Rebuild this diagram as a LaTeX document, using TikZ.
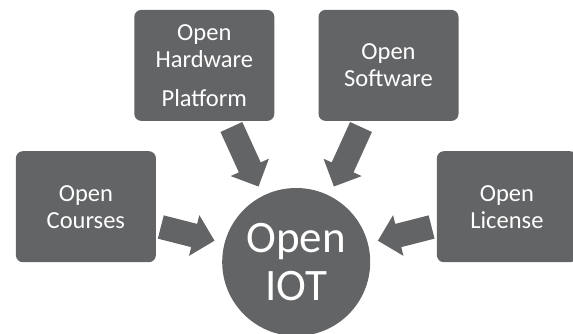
\documentclass[tikz,border=0pt]{standalone}
\usepackage{fontspec}
\setmainfont{Carlito}
\usetikzlibrary{calc}

\definecolor{iotgray}{RGB}{99,100,102}

\tikzset{
	openbox/.style={fill=iotgray, rounded corners=7pt, minimum width=140pt, minimum height=111pt,
		inner sep=0pt, text=white, align=center, font=\fontsize{24.5}{27}\selectfont},
	hub/.style={circle, fill=iotgray, minimum size=148pt, inner sep=0pt,
		text=white, align=center, font=\fontsize{45}{48}\selectfont}
}

% fat arrow from #1 (tail) to #2 (tip)
\newcommand{\blockarrow}[2]{%
	\coordinate (#2-base) at ($(#2)!21pt!(#1)$);
	\fill[iotgray] ($(#1)!12pt!90:(#2)$) -- ($(#2-base)!12pt!90:(#2)$) -- ($(#2-base)!21pt!90:(#2)$)
		-- (#2) -- ($(#2-base)!21pt!-90:(#2)$) -- ($(#2-base)!12pt!-90:(#2)$) -- ($(#1)!12pt!-90:(#2)$) -- cycle;
}

\begin{document}
\begin{tikzpicture}[x=1pt,y=1pt]
	\useasboundingbox (0,0) rectangle (573,333);
	
	% top row
	\node[openbox] (hardware) at (204.3,267.6) {Open\\Hardware\\[12pt]Platform};
	\node[openbox] (software) at (388.5,267.6) {Open\\Software};
	
	% side boxes
	\node[openbox] (courses) at (85.9,126.3) {Open\\Courses};
	\node[openbox] (license) at (506.9,126.3) {Open\\License};
	
	% centre
	\node[hub] (iot) at (296.2,71) {Open\\IOT};
	
	% arrow ends
	\coordinate (hwtail) at (231.4,206);
	\coordinate (hwtip) at (258.5,146.5);
	\coordinate (swtail) at (361,206);
	\coordinate (swtip) at (333.9,146.5);
	\coordinate (crtail) at (160.8,106);
	\coordinate (crtip) at (214.5,92.3);
	\coordinate (lctail) at (431.6,106);
	\coordinate (lctip) at (377.9,92.3);
	
	\blockarrow{hwtail}{hwtip}
	\blockarrow{swtail}{swtip}
	\blockarrow{crtail}{crtip}
	\blockarrow{lctail}{lctip}
\end{tikzpicture}
\end{document}
